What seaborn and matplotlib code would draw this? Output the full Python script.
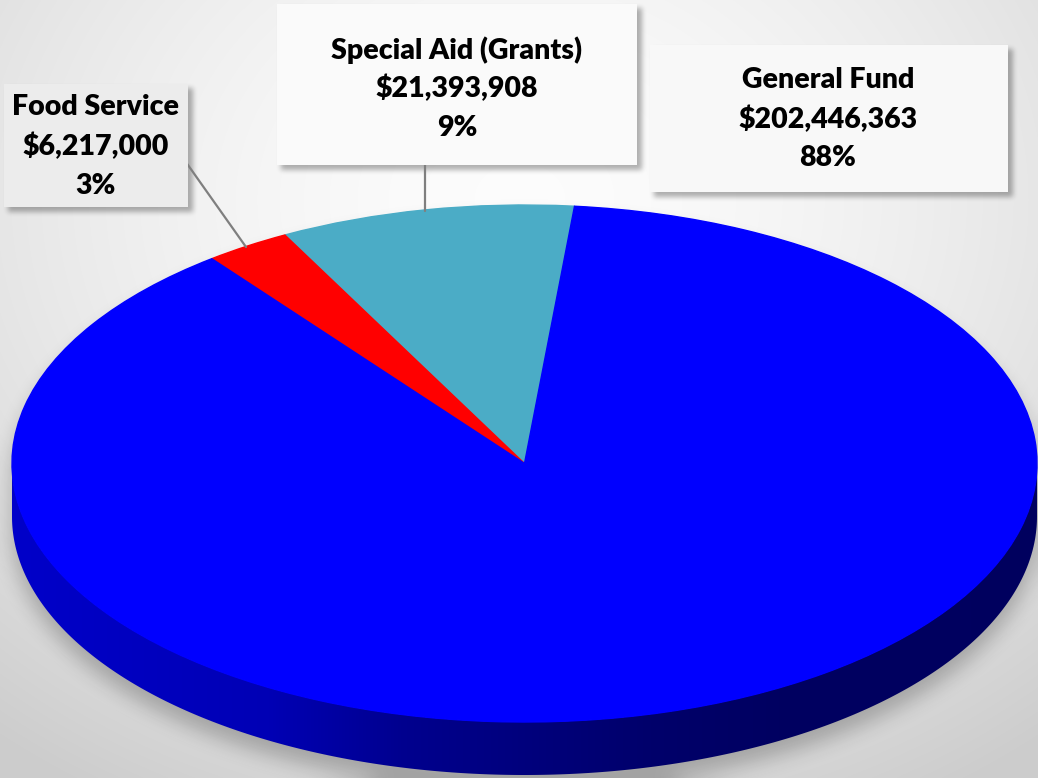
import numpy as np
import matplotlib
matplotlib.use("Agg")
import matplotlib.pyplot as plt
import seaborn as sns
from matplotlib.patches import Rectangle, Polygon
from matplotlib.lines import Line2D

# ---------------- data ----------------
categories = ["Special Aid (Grants)", "Food Service", "General Fund"]
amounts = [21393908, 6217000, 202446363]
colors = ["#4BACC6", "#FF0000", "#0000FF"]
start_angle = 84.4

# ---------------- style ----------------
sns.set_theme(style="white")
plt.rcParams['font.family'] = ['Lato', 'DejaVu Sans']

W, H = 1038, 778
fig = plt.figure(figsize=(W / 100, H / 100), dpi=100)
ax = fig.add_axes([0, 0, 1, 1])

# pie top ellipse geometry in pixels
CX, CY, RA, RB = 524.5, 463.5, 512.5, 258.5
DEPTH = 53
xl = ((0 - CX) / RA, (W - CX) / RA)
yl = ((CY - H) / RB, CY / RB)
ext = (xl[0], xl[1], yl[0], yl[1])

yy, xx = np.mgrid[0:H, 0:W] + 0.5

# background gradient
d = np.hypot((xx - 520) / 760, (yy - 200) / 620)
g = np.clip(0.99 - 0.16 * d ** 1.6, 0.80, 1.0)
ax.imshow(np.dstack([g, g, g]), extent=ext, origin='upper', aspect='auto',
          zorder=0, interpolation='bilinear')


def blur(m, r, n=3):
    for _ in range(n):
        c = np.cumsum(np.pad(m, ((0, 0), (r + 1, r)), mode='edge'), axis=1)
        m = (c[:, 2 * r + 1:] - c[:, :-2 * r - 1]) / (2 * r + 1)
        c = np.cumsum(np.pad(m, ((r + 1, r), (0, 0)), mode='edge'), axis=0)
        m = (c[2 * r + 1:, :] - c[:-2 * r - 1, :]) / (2 * r + 1)
    return m


# label layout (pixels): box x0, y0, x1, y1 ; text centre x ; line centres y
layout = {
    "Food Service": dict(box=(4, 84, 188, 207), fill="#ececec", tx=96, ty=(107, 146, 186)),
    "Special Aid (Grants)": dict(box=(277, 4, 637, 165), fill="#fafafa", tx=457, ty=(50, 88, 128)),
    "General Fund": dict(box=(650, 45, 1008, 192), fill="#f8f8f8", tx=828, ty=(80, 119, 158)),
}

# shadows
s = 14
inside_top = ((xx - CX) / RA) ** 2 + ((yy - CY - s) / RB) ** 2 <= 1
inside_bot = ((xx - CX) / RA) ** 2 + ((yy - CY - s - DEPTH) / RB) ** 2 <= 1
inside_mid = (np.abs(xx - CX) <= RA) & (yy >= CY + s) & (yy <= CY + s + DEPTH)
pie_mask = (inside_top | inside_bot | inside_mid).astype(float)
pie_sh = blur(pie_mask, 9)
box_mask = np.zeros((H, W))
for k, L in layout.items():
    x0, y0, x1, y1 = L["box"]
    box_mask[max(y0 + 4, 0):y1 + 5, x0 + 4:x1 + 5] = 1
box_sh = blur(box_mask, 2)
alpha = np.maximum(0.24 * pie_sh, 0.30 * box_sh)
sh = np.zeros((H, W, 4))
sh[..., 3] = alpha
ax.imshow(sh, extent=ext, origin='upper', aspect='auto', zorder=1,
          interpolation='bilinear')

# pie top face
wedges, _ = ax.pie(amounts, colors=colors, startangle=start_angle,
                   counterclock=True, radius=1, center=(0, 0),
                   wedgeprops=dict(linewidth=1.0))
for w_, c in zip(wedges, colors):
    w_.set_edgecolor(c)
    w_.set_zorder(4)

# pie side walls (front half, per wedge)
t = DEPTH / RB
total = float(sum(amounts))
uu = np.linspace(-1, 1, 400)
shade = np.interp(uu, [-1, -0.5, -0.24, 0.245, 0.5, 1], [0.79, 0.71, 0.56, 0.42, 0.38, 0.37])
a0 = start_angle
for amt, c in zip(amounts, colors):
    a1 = a0 + 360 * amt / total
    for off in (0, 360, -360):
        lo = max(a0 + off, 180)
        hi = min(a1 + off, 360)
        if hi > lo:
            th = np.radians(np.linspace(lo, hi, 300))
            up = np.c_[np.cos(th), np.sin(th)]
            dn = np.c_[np.cos(th[::-1]), np.sin(th[::-1]) - t]
            poly = Polygon(np.vstack([up, dn]), closed=True, facecolor='none',
                           edgecolor='none')
            ax.add_patch(poly)
            rgb = np.array(matplotlib.colors.to_rgb(c))
            img = shade[None, :, None] * rgb[None, None, :]
            img = np.repeat(img, 2, axis=0)
            im = ax.imshow(img, extent=(-1, 1, -1 - t, 0.05), origin='upper',
                           aspect='auto', zorder=3, interpolation='bilinear')
            im.set_clip_path(poly)
    a0 = a1

ax.set_xlim(xl)
ax.set_ylim(yl)
ax.set_aspect('auto')
ax.axis('off')


def fx(x):
    return x / W


def fy(y):
    return 1 - y / H


# leader lines
leaders = [[(171, 158), (183, 158), (246, 247)], [(425, 165), (425, 211)]]
for pts in leaders:
    fig.add_artist(Line2D([fx(p[0]) for p in pts], [fy(p[1]) for p in pts],
                          color="#7f7f7f", lw=1.6, transform=fig.transFigure, zorder=6))

# label boxes and text
for name, amt in zip(categories, amounts):
    L = layout[name]
    x0, y0, x1, y1 = L["box"]
    fig.add_artist(Rectangle((fx(x0), fy(y1)), (x1 - x0) / W, (y1 - y0) / H,
                             transform=fig.transFigure, facecolor=L["fill"],
                             edgecolor='none', zorder=7))
    pct = round(100 * amt / total)
    lines = [name, f"${amt:,}", f"{pct}%"]
    for txt, y in zip(lines, L["ty"]):
        fig.text(fx(L["tx"]), fy(y), txt, ha='center', va='center',
                 fontsize=20.5, fontweight='heavy', color='black', zorder=8)

fig.savefig("out.png", dpi=100)
